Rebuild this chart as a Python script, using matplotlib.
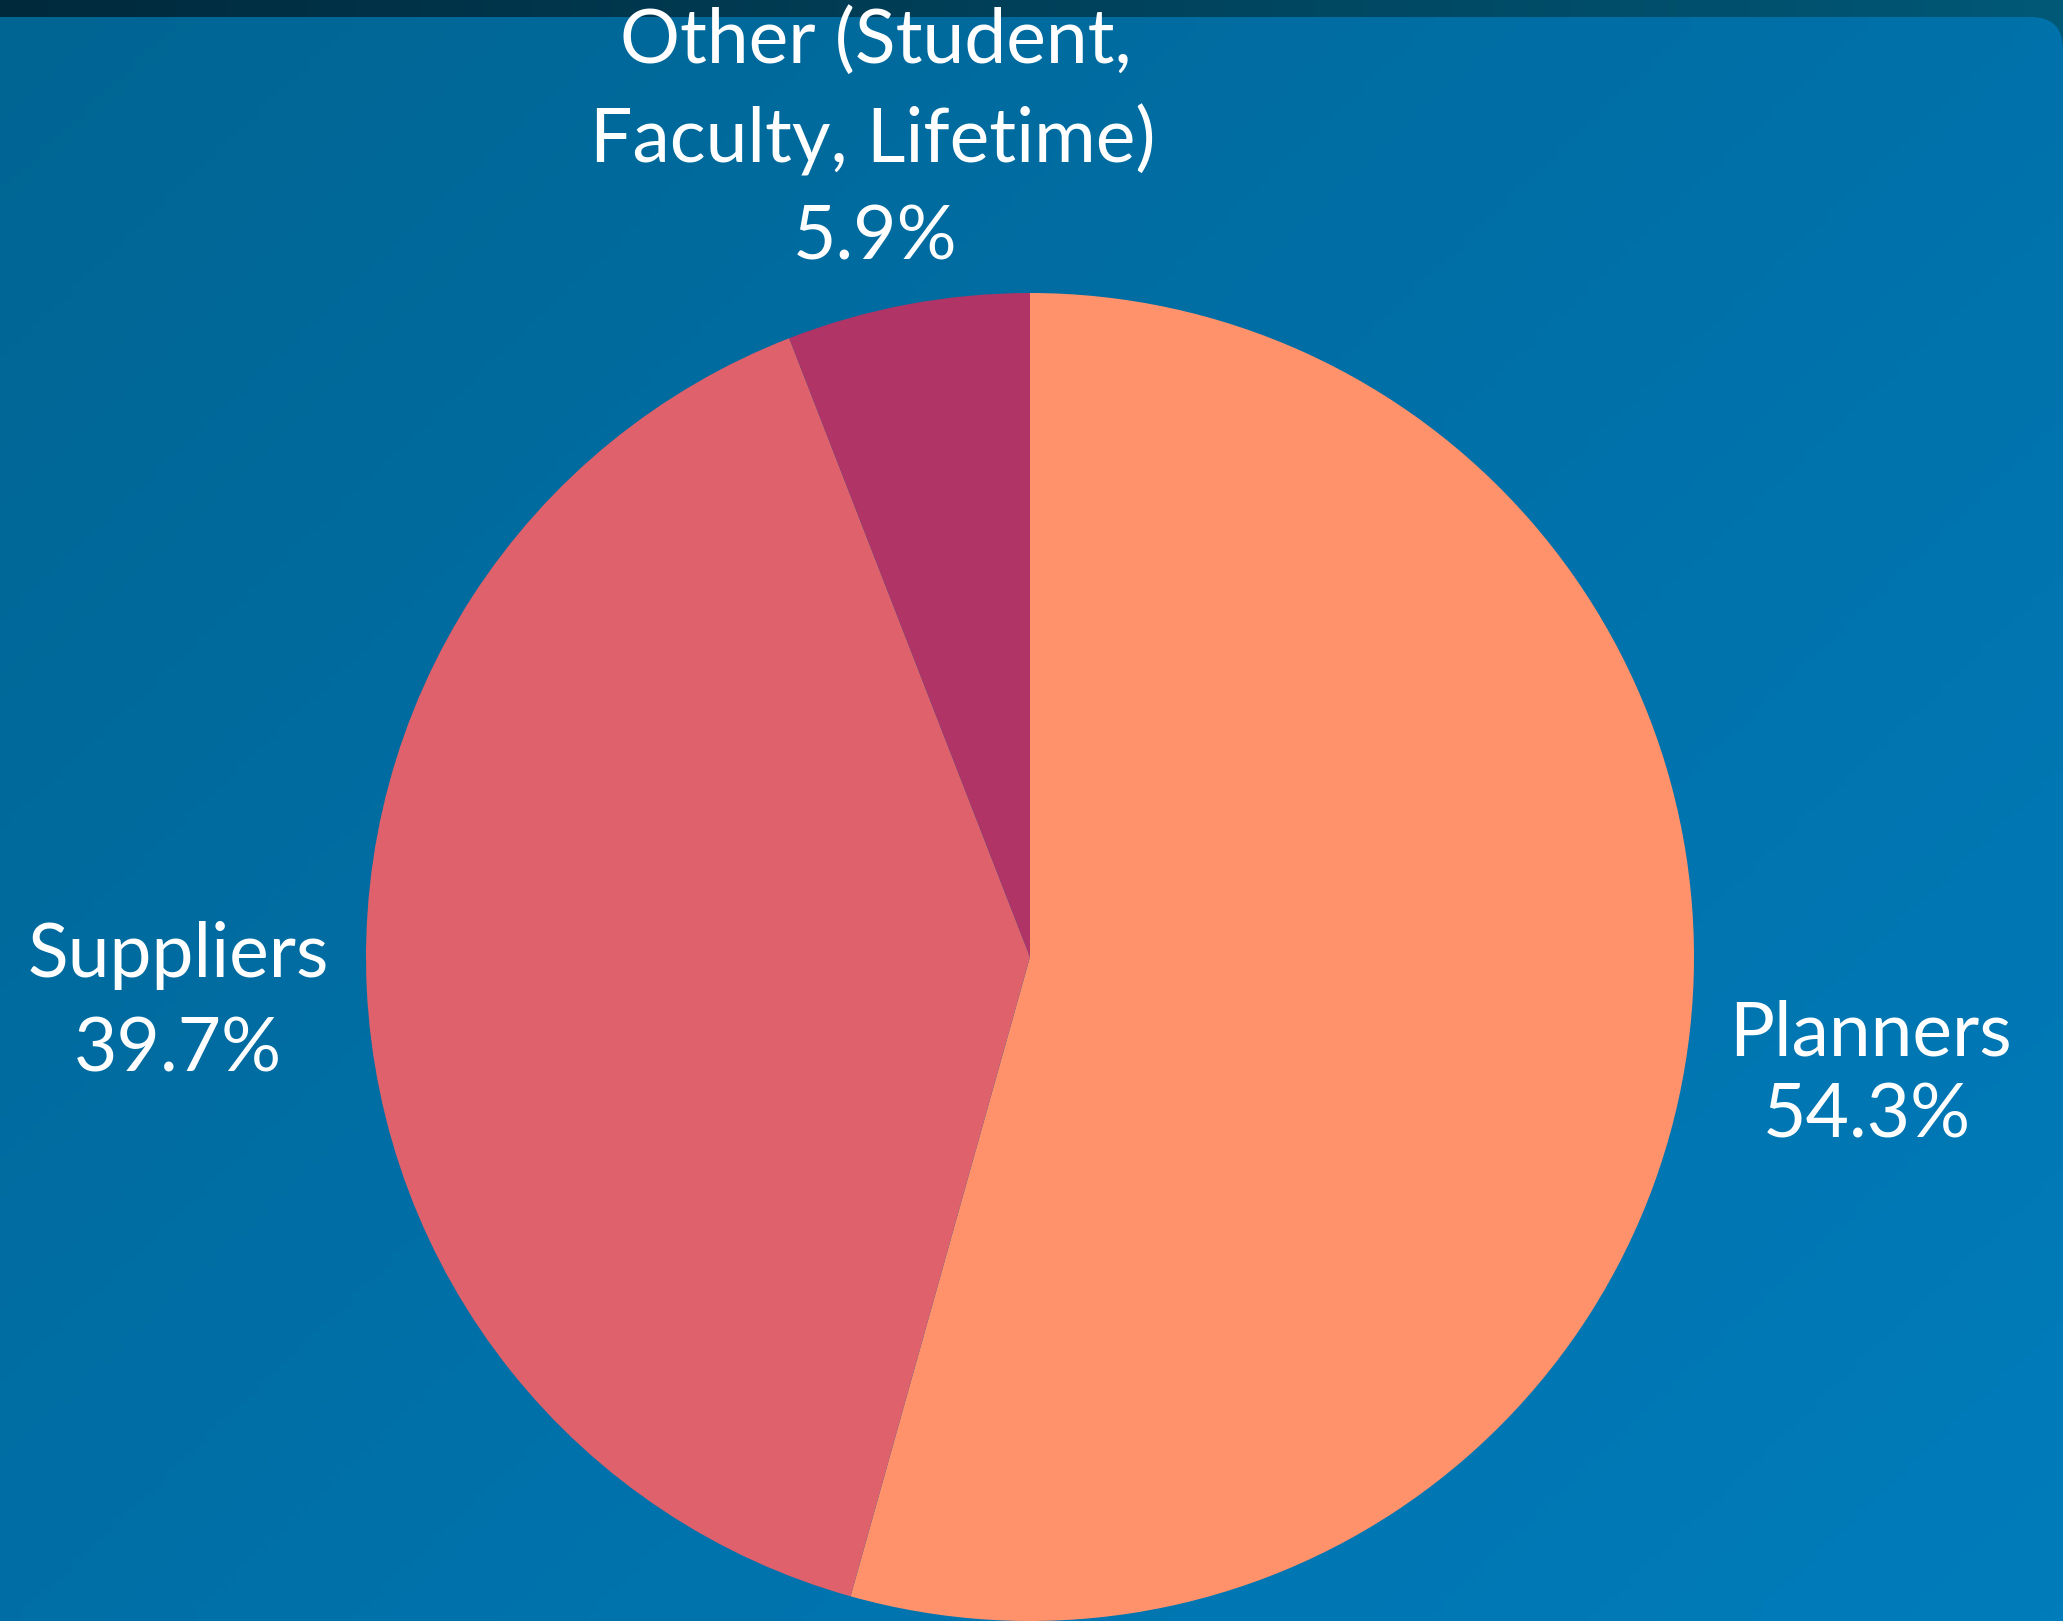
import numpy as np
import matplotlib
matplotlib.use("Agg")
import matplotlib.pyplot as plt
from matplotlib.colors import LinearSegmentedColormap
from matplotlib.patches import FancyBboxPatch

# ---- data ----
categories = ["Planners", "Suppliers", "Other (Student,\nFaculty, Lifetime)"]
values = [54.3, 39.7, 5.9]
colors = ["#ff926b", "#de616b", "#b03466"]

W, H = 2063, 1621
DPI = 100
plt.rcParams['font.family'] = ['Lato', 'DejaVu Sans']

fig = plt.figure(figsize=(W / DPI, H / DPI), dpi=DPI)

# ---- background ----
bg = fig.add_axes([0, 0, 1, 1], zorder=-10)
bg.set_xlim(0, W)
bg.set_ylim(0, H)
bg.axis("off")

band_cmap = LinearSegmentedColormap.from_list("band", ["#01293c", "#005877"])
gx = np.linspace(0, 1, 256).reshape(1, -1)
bg.imshow(gx, cmap=band_cmap, extent=[0, W, H - 60, H], aspect="auto", zorder=0)

panel_cmap = LinearSegmentedColormap.from_list("panel", ["#006593", "#0070a8", "#007cbb"])
yy, xx = np.mgrid[0:1:200j, 0:1:200j]
grad = (xx * 0.55 + yy * 0.45)
panel = FancyBboxPatch((-200, -200), W + 200, H - 17 + 200,
                       boxstyle="round,pad=0,rounding_size=32",
                       facecolor="none", edgecolor="none")
bg.add_patch(panel)
im = bg.imshow(grad, cmap=panel_cmap, extent=[0, W, 0, H - 17], origin="upper",
               aspect="auto", zorder=1)
im.set_clip_path(panel)

# ---- pie ----
cx, cy, r = 1030, 957, 664
ax = fig.add_axes([(cx - r) / W, (H - cy - r) / H, 2 * r / W, 2 * r / H])
ax.pie(values, colors=colors, startangle=90, counterclock=False, radius=1,
       wedgeprops=dict(linewidth=0))
ax.set_xlim(-1, 1)
ax.set_ylim(-1, 1)
ax.set_aspect("equal")
ax.axis("off")

# ---- labels ----
fs = 54
def label(x, y, s):
    fig.text(x / W, 1 - y / H, s, color="white", fontsize=fs,
             ha="center", va="baseline")

pct = [f"{v:.1f}%" for v in values]
other_lines = categories[2].split("\n")
label(876, 63, other_lines[0])
label(873, 163, other_lines[1])
label(875, 260, pct[2])
label(178, 977, categories[1])
label(178, 1072, pct[1])
label(1870, 1055, categories[0])
label(1867, 1137, pct[0])

fig.savefig("out.png", dpi=DPI)
